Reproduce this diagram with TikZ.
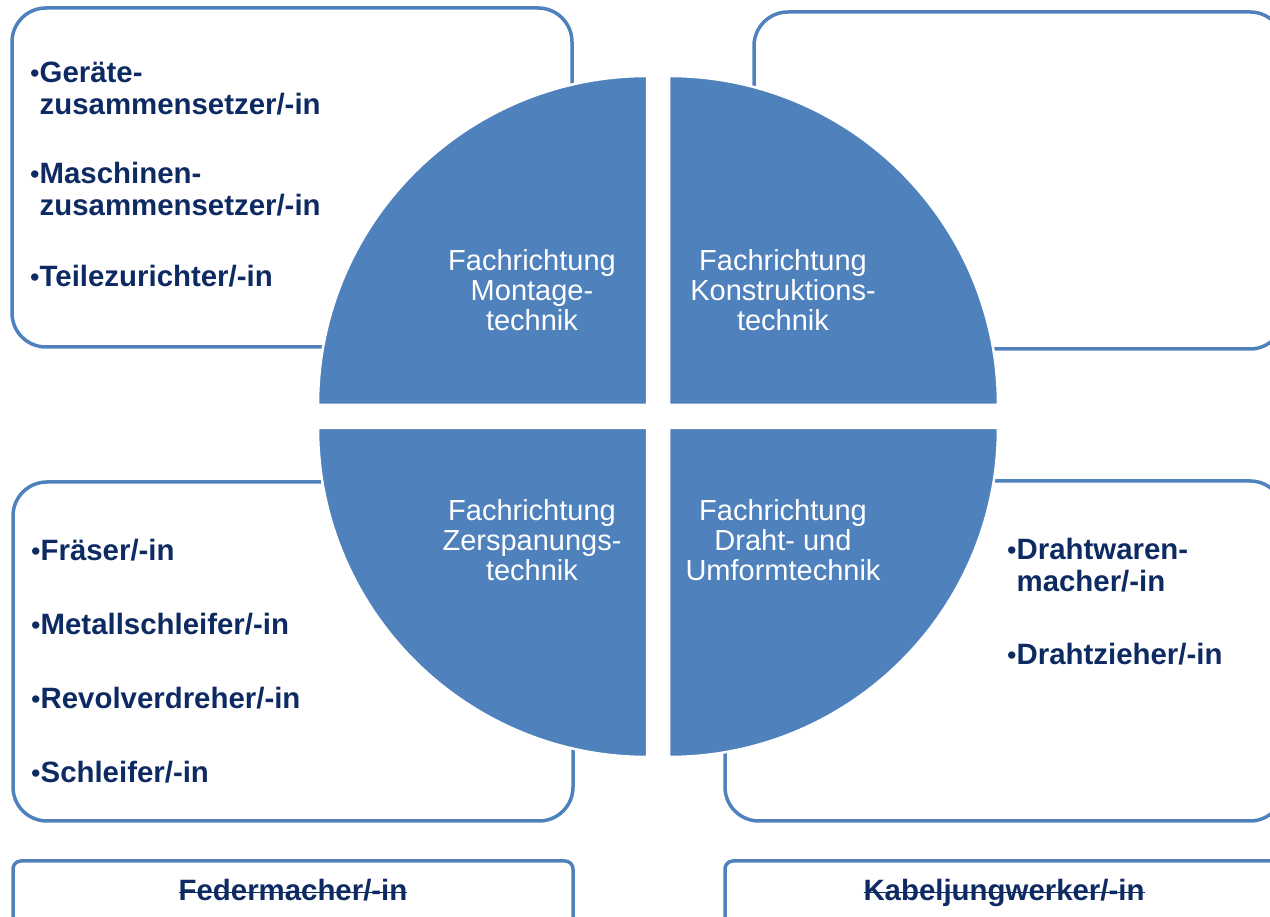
\documentclass[tikz,border=0pt]{standalone}
\usepackage{fontspec}
\setmainfont{Liberation Sans}
\newcommand{\gestrichen}[1]{\setbox0\hbox{#1}\rlap{\rule[7.5pt]{\wd0}{1.6pt}}\box0}
\newcommand{\punkt}{{\mdseries\fontsize{27}{32}\selectfont•}}

\begin{document}
\begin{tikzpicture}[x=1pt,y=1pt,
  rahmen/.style={draw=fachblau,line width=3.5pt,rounded corners=34pt},
  leiste/.style={draw=fachblau,line width=3.5pt,rounded corners=8pt},
  viertel/.style={fill=fachblau,draw=white,line width=2.5pt},
  fachtext/.style={text=white,align=center,inner sep=0pt,font=\fontsize{29}{30}\selectfont},
  beruf/.style={text=berufblau,align=left,anchor=base west,inner sep=0pt,font=\fontsize{29.4}{32}\selectfont\bfseries}]
\definecolor{fachblau}{HTML}{4F81BD}
\definecolor{berufblau}{HTML}{0E2A63}
\useasboundingbox (0,0) rectangle (1270,917);
\draw[rahmen] (12,909) rectangle (572,570);
\draw[rahmen] (754,905) rectangle (1284,568);
\draw[rahmen] (13,435) rectangle (573,96);
\draw[rahmen] (725,436) rectangle (1284,96);
\draw[leiste] (13,56) rectangle (573,-12);
\draw[leiste] (725,56) rectangle (1284,-12);
\draw[viertel] (647,512) -- (318,512) arc[start angle=180,end angle=90,radius=329] -- cycle;
\draw[viertel] (669,512) -- (669,841) arc[start angle=90,end angle=0,radius=329] -- cycle;
\draw[viertel] (647,489) -- (647,160) arc[start angle=270,end angle=180,radius=329] -- cycle;
\draw[viertel] (669,489) -- (998,489) arc[start angle=0,end angle=-90,radius=329] -- cycle;
\node[fachtext] (montage) at (532,627) {Fachrichtung\\Montage-\\technik};
\node[fachtext] (konstruktion) at (783,627) {Fachrichtung\\Konstruktions-\\technik};
\node[fachtext] (zerspanung) at (532,377) {Fachrichtung\\Zerspanungs-\\technik};
\node[fachtext] (draht) at (783,377) {Fachrichtung\\Draht- und\\Umformtechnik};
\node[beruf] (geraete) at (30,802) {\punkt Geräte-\\\phantom{\punkt}zusammensetzer/-in};
\node[beruf] (maschinen) at (30,701) {\punkt Maschinen-\\\phantom{\punkt}zusammensetzer/-in};
\node[beruf] (teile) at (30,630) {\punkt Teilezurichter/-in};
\foreach \job [count=\i] in {{Fräser/-in},{Metallschleifer/-in},{Revolverdreher/-in},{Schleifer/-in}}
  {\node[beruf] (zerspan\i) at (31,430-74*\i) {\punkt\job};}
\node[beruf] (drahtwaren) at (1007,325) {\punkt Drahtwaren-\\\phantom{\punkt}macher/-in};
\node[beruf] (drahtzieher) at (1007,252) {\punkt Drahtzieher/-in};
\node[beruf,anchor=base] (feder) at (293,16) {\gestrichen{Federmacher/-in}};
\node[beruf,anchor=base] (kabel) at (1004,16) {\gestrichen{Kabeljungwerker/-in}};
\end{tikzpicture}
\end{document}
